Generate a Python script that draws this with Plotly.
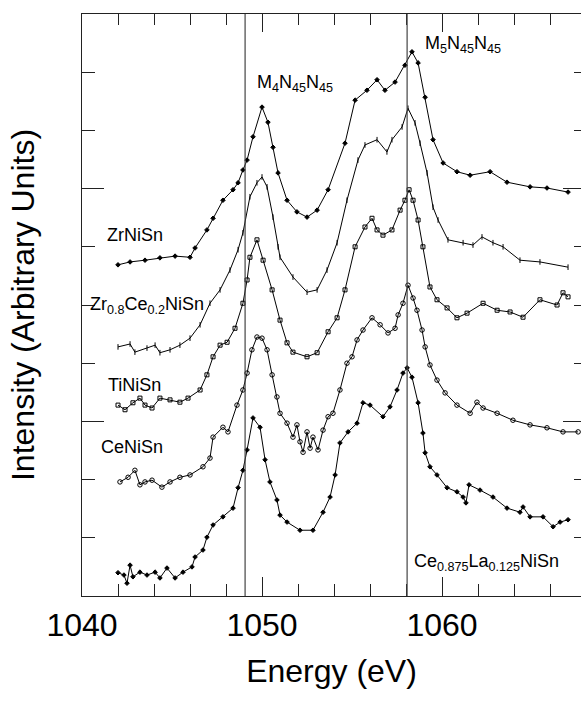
import plotly.graph_objects as go

# ---------------- data (energy in eV, intensity in arbitrary units) ----------------
zr_e = [1042.0, 1042.67, 1043.5, 1044.33, 1045.17, 1046.0, 1046.28, 1046.94, 1047.28, 1047.83,
        1048.39, 1048.67, 1048.94, 1049.17, 1049.5, 1050.0, 1050.33, 1050.61, 1050.89, 1051.39,
        1051.94, 1052.5, 1053.06, 1053.67, 1054.61, 1055.17, 1055.83, 1056.39, 1056.83, 1057.39,
        1057.94, 1058.33, 1058.67, 1059.06, 1059.5, 1060.06, 1060.83, 1061.56, 1062.67, 1063.61,
        1064.89, 1065.83, 1067.0]
zr_i = [5.69, 5.74, 5.77, 5.81, 5.84, 5.82, 5.98, 6.29, 6.49, 6.80,
        6.98, 7.10, 7.32, 7.49, 7.89, 8.40, 8.14, 7.71, 7.27, 6.80,
        6.60, 6.51, 6.63, 6.98, 7.78, 8.52, 8.69, 8.87, 8.69, 8.83,
        9.12, 9.35, 9.16, 8.57, 7.84, 7.44, 7.29, 7.23, 7.29, 7.11,
        7.03, 7.01, 6.94]

zrce_e = [1042.0, 1042.67, 1042.94, 1043.61, 1044.06, 1044.33, 1044.89, 1045.44, 1046.0, 1046.56,
          1047.11, 1047.67, 1048.22, 1048.67, 1048.94, 1049.33, 1049.72, 1050.0, 1050.28, 1050.61,
          1050.89, 1051.0, 1051.72, 1052.5, 1053.06, 1053.61, 1054.17, 1054.72, 1055.33, 1055.72,
          1056.39, 1056.94, 1057.22, 1057.78, 1058.11, 1058.5, 1058.78, 1059.17, 1059.5, 1059.78,
          1060.33, 1061.17, 1061.72, 1062.22, 1062.83, 1063.39, 1064.33, 1065.44, 1067.0]
zrce_i = [4.28, 4.33, 4.19, 4.26, 4.31, 4.18, 4.23, 4.31, 4.43, 4.66,
          5.03, 5.26, 5.60, 5.95, 6.24, 6.86, 7.10, 7.20, 7.03, 6.51,
          6.00, 5.82, 5.48, 5.22, 5.26, 5.60, 6.07, 6.80, 7.49, 7.75,
          7.84, 7.63, 7.84, 8.06, 8.38, 8.13, 7.78, 7.27, 6.68, 6.46,
          6.12, 6.07, 6.03, 6.17, 6.07, 6.00, 5.77, 5.74, 5.65]

ti_e = [1042.0, 1042.39, 1042.83, 1043.22, 1043.5, 1043.89, 1044.33, 1044.89, 1045.44, 1045.89,
        1046.56, 1046.94, 1047.28, 1047.67, 1048.06, 1048.5, 1048.94, 1049.17, 1049.33, 1049.72,
        1050.06, 1050.56, 1051.0, 1051.39, 1051.72, 1052.5, 1053.06, 1053.67, 1054.17, 1054.61,
        1055.17, 1055.72, 1056.11, 1056.39, 1056.72, 1057.22, 1057.67, 1057.94, 1058.17, 1058.39,
        1058.67, 1058.94, 1059.33, 1059.72, 1060.28, 1060.83, 1061.39, 1062.28, 1063.06, 1063.78,
        1064.5, 1065.44, 1066.39, 1066.72, 1067.0]
ti_i = [3.28, 3.20, 3.32, 3.40, 3.28, 3.23, 3.40, 3.37, 3.33, 3.40,
        3.54, 3.80, 4.11, 4.31, 4.36, 4.60, 5.03, 5.43, 5.82, 6.12,
        5.77, 5.26, 4.74, 4.35, 4.19, 4.11, 4.18, 4.54, 4.78, 5.26,
        6.00, 6.34, 6.49, 6.29, 6.20, 6.29, 6.63, 6.80, 6.98, 6.80,
        6.46, 6.00, 5.31, 5.09, 4.95, 4.78, 4.86, 5.03, 4.91, 4.88,
        4.79, 5.09, 5.00, 5.21, 5.14]

ce_e = [1042.11, 1042.56, 1042.94, 1043.22, 1043.5, 1043.89, 1044.44, 1044.89, 1045.44, 1046.0,
        1046.72, 1047.11, 1047.28, 1047.83, 1048.11, 1048.61, 1048.94, 1049.17, 1049.44, 1049.72,
        1050.0, 1050.28, 1050.56, 1050.83, 1051.0, 1051.39, 1051.72, 1051.94, 1052.11, 1052.28,
        1052.5, 1052.67, 1052.83, 1053.11, 1053.39, 1053.67, 1053.94, 1054.33, 1054.72, 1055.0,
        1055.28, 1055.61, 1056.11, 1056.56, 1057.0, 1057.39, 1057.56, 1057.83, 1058.11, 1058.39,
        1058.61, 1058.89, 1059.06, 1059.33, 1059.72, 1060.17, 1060.83, 1061.56, 1061.94, 1062.28,
        1063.06, 1063.94, 1064.89, 1065.83, 1066.72, 1067.56]
ce_i = [1.96, 2.04, 2.16, 1.91, 1.96, 1.99, 1.87, 1.96, 2.04, 2.08,
        2.22, 2.37, 2.73, 2.90, 2.82, 3.28, 3.54, 3.83, 4.23, 4.45,
        4.43, 4.23, 3.80, 3.42, 3.14, 2.97, 2.73, 2.94, 2.65, 2.47,
        2.82, 2.54, 2.73, 2.51, 2.85, 3.08, 3.14, 3.54, 4.00, 4.11,
        4.40, 4.57, 4.78, 4.66, 4.52, 4.60, 4.83, 5.03, 5.34, 5.12,
        4.91, 4.57, 4.28, 3.97, 3.71, 3.49, 3.28, 3.14, 3.33, 3.23,
        3.14, 3.02, 2.94, 2.89, 2.82, 2.82]

cela_e = [1042.0, 1042.33, 1042.5, 1042.67, 1042.83, 1043.22, 1043.61, 1044.06, 1044.33, 1044.72,
          1045.17, 1045.61, 1046.11, 1046.28, 1046.72, 1046.94, 1047.28, 1047.83, 1048.39, 1048.67,
          1048.94, 1049.17, 1049.5, 1049.89, 1050.17, 1050.44, 1050.83, 1051.0, 1051.39, 1052.11,
          1052.83, 1053.39, 1053.78, 1054.06, 1054.33, 1054.78, 1055.28, 1055.61, 1056.0, 1056.72,
          1057.11, 1057.5, 1057.83, 1058.06, 1058.33, 1058.67, 1058.94, 1059.06, 1059.33, 1059.72,
          1060.28, 1060.83, 1061.17, 1061.33, 1061.5, 1062.11, 1062.83, 1063.61, 1064.33, 1064.5,
          1064.89, 1065.61, 1066.17, 1066.56, 1067.0]
cela_i = [0.40, 0.36, 0.22, 0.53, 0.33, 0.41, 0.36, 0.41, 0.31, 0.48,
          0.31, 0.41, 0.50, 0.67, 0.79, 1.01, 1.22, 1.36, 1.51, 1.86,
          2.16, 2.51, 3.06, 2.90, 2.34, 1.96, 1.65, 1.39, 1.27, 1.13,
          1.13, 1.44, 1.70, 2.08, 2.63, 2.82, 2.97, 3.32, 3.28, 3.08,
          3.25, 3.54, 3.83, 3.92, 3.76, 3.32, 2.80, 2.46, 2.22, 2.08,
          1.86, 1.79, 1.70, 1.60, 1.91, 1.82, 1.70, 1.51, 1.44, 1.53,
          1.36, 1.36, 1.19, 1.27, 1.31]

ref_lines = [1049.06, 1058.06]
x_major = [1040, 1050, 1060]
x_major_text = ["1040", "1050", "1060"]
y_major = [3, 7]
y_minor = list(range(0, 11))

FONT = "Liberation Sans, Arial, sans-serif"

series = [
    (zr_e, zr_i, "diamond", 3.5),
    (zrce_e, zrce_i, "line-ns-open", 4),
    (ti_e, ti_i, "square-open", 4),
    (ce_e, ce_i, "circle-open", 4.5),
    (cela_e, cela_i, "diamond", 3.5),
]

fig = go.Figure()
for ex, iy, sym, sz in series:
    fig.add_trace(go.Scatter(
        x=ex, y=iy, mode="lines+markers",
        line=dict(color="black", width=1),
        marker=dict(symbol=sym, size=sz, color="black", line=dict(color="black", width=1)),
        showlegend=False, hoverinfo="skip",
    ))

# dummy trace to instantiate the mirrored (top / right) axes
fig.add_trace(go.Scatter(x=[None], y=[None], xaxis="x2", yaxis="y2", showlegend=False, hoverinfo="skip"))

for xv in ref_lines:
    fig.add_shape(type="line", xref="x", yref="paper", x0=xv, x1=xv, y0=0, y1=1,
                  line=dict(color="#444444", width=1.2))

xr = [1040, 1067.72]
yr = [0, 10]

labels = [
    ("ZrNiSn", 1042.94, 6.20, "center"),
    ("Zr<sub>0.8</sub>Ce<sub>0.2</sub>NiSn", 1040.33, 5.00, "left"),
    ("TiNiSn", 1042.92, 3.63, "center"),
    ("CeNiSn", 1042.78, 2.56, "center"),
    ("Ce<sub>0.875</sub>La<sub>0.125</sub>NiSn", 1058.33, 0.57, "left"),
    ("M<sub>4</sub>N<sub>45</sub>N<sub>45</sub>", 1049.61, 8.80, "left"),
    ("M<sub>5</sub>N<sub>45</sub>N<sub>45</sub>", 1058.94, 9.48, "left"),
]
for txt, xx, yy, anc in labels:
    fig.add_annotation(x=xx, y=yy, xref="x", yref="y", text=txt, showarrow=False,
                       xanchor=anc, yanchor="middle",
                       font=dict(family=FONT, size=18, color="black"))

fig.update_layout(
    width=581, height=701,
    margin=dict(l=82, r=0, t=14, b=105, pad=0),
    paper_bgcolor="white", plot_bgcolor="white",
    font=dict(family=FONT, color="black"),
    xaxis=dict(
        range=xr, showgrid=False, zeroline=False,
        showline=True, linecolor="#222222", linewidth=1.2,
        ticks="inside", tickvals=x_major, ticktext=x_major_text, ticklen=19, tickwidth=1,
        tickcolor="#222222",
        minor=dict(dtick=2, tick0=1040, ticks="inside", ticklen=12, tickcolor="#222222", tickwidth=1),
        tickfont=dict(family=FONT, size=32),
        title=dict(text="Energy (eV)", font=dict(family=FONT, size=32), standoff=18),
    ),
    yaxis=dict(
        range=yr, showgrid=False, zeroline=False,
        showline=True, linecolor="#222222", linewidth=1.2,
        ticks="inside", tickvals=y_major, ticklen=22, tickwidth=1, tickcolor="#222222",
        showticklabels=False,
        minor=dict(tickvals=y_minor, ticks="inside", ticklen=13, tickcolor="#222222", tickwidth=1),
        title=dict(text="Intensity (Arbitrary Units)", font=dict(family=FONT, size=32), standoff=36),
    ),
    xaxis2=dict(
        range=xr, overlaying="x", side="top", anchor="y", showgrid=False, zeroline=False,
        showline=True, linecolor="#222222", linewidth=1.2,
        ticks="inside", tickvals=x_major, ticklen=18, tickwidth=1, tickcolor="#222222",
        showticklabels=False,
        minor=dict(dtick=2, tick0=1040, ticks="inside", ticklen=11, tickcolor="#222222", tickwidth=1),
    ),
    yaxis2=dict(
        range=yr, overlaying="y", side="right", anchor="x", showgrid=False, zeroline=False,
        showline=False,
        ticks="inside", tickvals=y_major, ticklen=18, tickwidth=1, tickcolor="#222222",
        showticklabels=False,
        minor=dict(tickvals=y_minor, ticks="inside", ticklen=7, tickcolor="#222222", tickwidth=1),
    ),
)

fig.write_html("out.html")
